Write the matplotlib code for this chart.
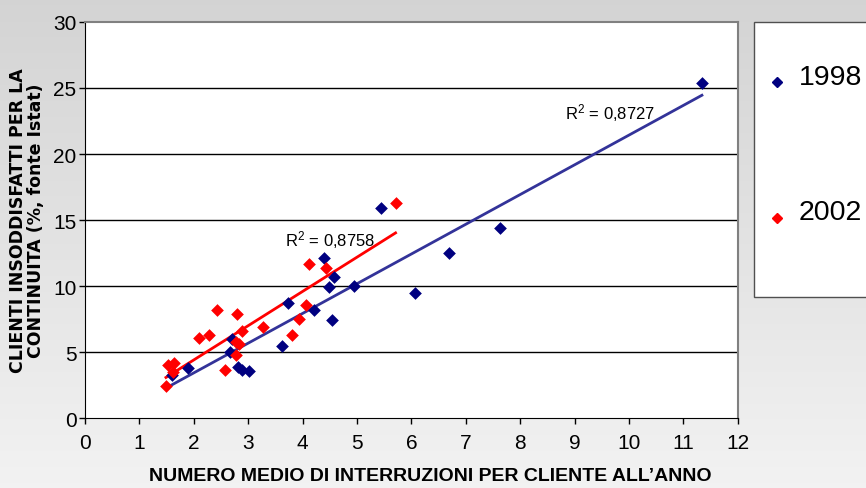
import numpy as np
import matplotlib
matplotlib.use("Agg")
import matplotlib.pyplot as plt
from matplotlib.lines import Line2D
from matplotlib.patches import Rectangle

# 1998 - blue
x_1998 = [11.34, 7.63, 6.70, 6.07, 5.45, 4.94, 4.58, 4.49, 4.40, 4.55,
          4.21, 3.73, 3.62, 3.02, 2.88, 2.81, 2.67, 2.70, 1.89, 1.60]
y_1998 = [25.4, 14.4, 12.5, 9.45, 15.9, 10.0, 10.7, 9.95, 12.1, 7.4,
          8.2, 8.7, 5.45, 3.6, 3.65, 3.85, 5.0, 6.0, 3.8, 3.3]

# 2002 - red
x_2002 = [5.71, 4.44, 4.12, 4.06, 3.93, 3.81, 3.28, 2.89, 2.84, 2.78,
          2.80, 2.78, 2.43, 2.29, 2.09, 2.57, 1.53, 1.64, 1.62, 1.49]
y_2002 = [16.3, 11.36, 11.67, 8.6, 7.5, 6.31, 6.9, 6.61, 5.6, 5.73,
          7.88, 4.77, 8.2, 6.31, 6.04, 3.66, 4.0, 4.2, 3.5, 2.4]

r2_labels = {"1998": "R$^{2}$ = 0,8727", "2002": "R$^{2}$ = 0,8758"}

x_ticks = list(range(0, 13))
y_ticks = list(range(0, 31, 5))

plt.rcParams["font.family"] = ["Liberation Sans", "DejaVu Sans"]
plt.rcParams["mathtext.fontset"] = "custom"
plt.rcParams["mathtext.rm"] = "Liberation Sans"
plt.rcParams["mathtext.it"] = "Liberation Sans"
plt.rcParams["mathtext.default"] = "regular"

fig = plt.figure(figsize=(8.66, 4.89), dpi=100)

# grey gradient background
bg = fig.add_axes([0, 0, 1, 1], zorder=-10)
grad = np.linspace(0.83, 0.95, 256).reshape(-1, 1)
bg.imshow(np.dstack([grad, grad, grad]), aspect="auto", extent=[0, 1, 0, 1])
bg.axis("off")

ax = fig.add_axes([0.098, 0.143, 0.754, 0.81])
ax.set_facecolor("white")
ax.set_xlim(0, 12)
ax.set_ylim(0, 30)
ax.set_xticks(x_ticks)
ax.set_yticks(y_ticks)
ax.tick_params(labelsize=15, direction="out", length=4, width=1)
ax.tick_params(axis="x", pad=7)
ax.tick_params(axis="y", pad=2)
for y in y_ticks[1:-1]:
    ax.axhline(y, color="black", linewidth=1, zorder=1)
for s in ["top", "right"]:
    ax.spines[s].set_color("#808080")
    ax.spines[s].set_linewidth(1.5)
ax.spines["left"].set_color("black")
ax.spines["bottom"].set_color("black")

ax.scatter(x_1998, y_1998, marker="D", s=42, color="#000080", zorder=3, linewidths=0)
ax.scatter(x_2002, y_2002, marker="D", s=42, color="#ff0000", zorder=3, linewidths=0)

# linear trend lines
z1 = np.polyfit(x_1998, y_1998, 1)
xl1 = np.array([min(x_1998), max(x_1998)])
ax.plot(xl1, np.polyval(z1, xl1), color="#333399", linewidth=2, zorder=2)
z2 = np.polyfit(x_2002, y_2002, 1)
xl2 = np.array([min(x_2002), max(x_2002)])
ax.plot(xl2, np.polyval(z2, xl2), color="#ff0000", linewidth=2, zorder=2)

ax.text(9.65, 23.2, r2_labels["1998"], fontsize=12, ha="center", va="center")
ax.text(4.5, 13.56, r2_labels["2002"], fontsize=12, ha="center", va="center")

fig.text(27 / 866, 1 - 221 / 489, "CLIENTI INSODDISFATTI PER LA\nCONTINUITA (%, fonte Istat)",
         fontsize=12.5, fontweight="bold", family="DejaVu Sans", rotation=90,
         ha="center", va="center", multialignment="center", linespacing=0.95)
fig.text(430 / 866, 1 - 477 / 489, "NUMERO MEDIO DI INTERRUZIONI PER CLIENTE ALL\u2019ANNO",
         fontsize=14, fontweight="bold", ha="center", va="center")

# legend box at the right edge
fig.patches.append(Rectangle((754 / 866, 1 - 298 / 489), 0.2, (298 - 23) / 489,
                             transform=fig.transFigure, facecolor="white",
                             edgecolor="#505050", linewidth=1))
fig.lines.append(Line2D([777 / 866], [1 - 83 / 489], marker="D", markersize=5,
                        color="#000080", linestyle="none", transform=fig.transFigure))
fig.lines.append(Line2D([777 / 866], [1 - 219 / 489], marker="D", markersize=5,
                        color="#ff0000", linestyle="none", transform=fig.transFigure))
fig.text(799 / 866, 1 - 78 / 489, "1998", fontsize=20.5, va="center")
fig.text(799 / 866, 1 - 213 / 489, "2002", fontsize=20.5, va="center")

fig.savefig("out.png", dpi=100)
